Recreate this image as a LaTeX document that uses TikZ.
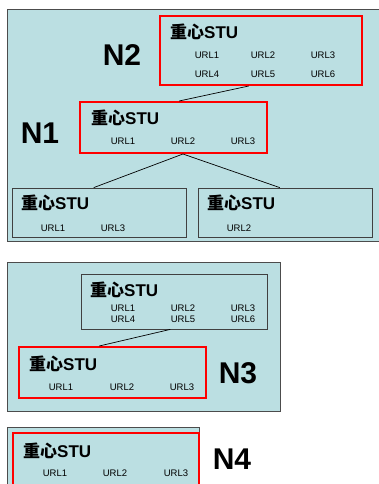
\documentclass[tikz,border=0pt]{standalone}
\usepackage{fontspec}
\setmainfont{Liberation Sans}
\newfontfamily\cjk{Noto Sans CJK SC}
\usetikzlibrary{calc}

\definecolor{panelfill}{RGB}{187,223,226}
\tikzset{
	panel/.style={draw=black!70, fill=panelfill, line width=0.8pt},
	redbox/.style={draw=red, line width=2pt, inner sep=0pt},
	graybox/.style={draw=black!75, line width=0.8pt, inner sep=0pt},
	stutitle/.style={anchor=west, inner sep=0pt, font=\fontsize{17}{17}\selectfont\bfseries},
	url/.style={inner sep=0pt, font=\fontsize{9.5}{10}\selectfont},
	levellabel/.style={inner sep=0pt, font=\fontsize{30}{30}\selectfont\bfseries},
	link/.style={draw=black, line width=0.7pt}
}
\newcommand{\stuname}{{\cjk 重心}STU}

\begin{document}
\begin{tikzpicture}[x=1pt,y=-1pt]
	\useasboundingbox (0,0) rectangle (379,484);
	\clip (0,0) rectangle (379,484);

	% panels
	\fill[white] (0,0) rectangle (379,484);
	\draw[panel] (7,9) rectangle (390,241);
	\draw[panel] (7,262) rectangle (280,411);
	\draw[panel] (7,427) rectangle (199,495);

	% first panel: N2 over N1 over two children
	\node[redbox, minimum width=202pt, minimum height=69pt] (n2box) at (261,50.5) {};
	\node[stutitle] (n2title) at (170,32) {\stuname};
	\foreach \i/\x in {1/207,2/263,3/323}
		\node[url] (n2u\i) at (\x,55) {URL\i};
	\foreach \i/\x in {4/207,5/263,6/323}
		\node[url] (n2u\i) at (\x,74) {URL\i};
	\node[levellabel] (lab2) at (122,55) {N2};

	\node[redbox, minimum width=187pt, minimum height=51pt] (n1box) at (173.5,127.5) {};
	\node[stutitle] (n1title) at (91,118) {\stuname};
	\foreach \i/\x in {1/123,2/183,3/243}
		\node[url] (n1u\i) at (\x,141) {URL\i};
	\node[levellabel] (lab1) at (40,133) {N1};

	\node[graybox, minimum width=174pt, minimum height=49pt] (leftbox) at (99,212.5) {};
	\node[stutitle] (lefttitle) at (21,203) {\stuname};
	\node[url] (leftu1) at (53,228) {URL1};
	\node[url] (leftu3) at (113,228) {URL3};

	\node[graybox, minimum width=174pt, minimum height=49pt] (rightbox) at (285,212.5) {};
	\node[stutitle] (righttitle) at (207,203) {\stuname};
	\node[url] (rightu2) at (239,228) {URL2};

	\draw[link] ($(n2box.south west)!.44!(n2box.south east)$) -- ($(n1box.north west)!.53!(n1box.north east)$);
	\draw[link] ($(n1box.south west)!.55!(n1box.south east)$) -- ($(leftbox.north west)!.47!(leftbox.north east)$);
	\draw[link] ($(n1box.south west)!.55!(n1box.south east)$) -- ($(rightbox.north west)!.47!(rightbox.north east)$);

	% second panel: N3
	\node[graybox, minimum width=186pt, minimum height=55pt] (upbox) at (174,301.5) {};
	\node[stutitle] (uptitle) at (90,290) {\stuname};
	\foreach \i/\x in {1/123,2/183,3/243}
		\node[url] (upu\i) at (\x,308) {URL\i};
	\foreach \i/\x in {4/123,5/183,6/243}
		\node[url] (upu\i) at (\x,319) {URL\i};

	\node[redbox, minimum width=187pt, minimum height=51pt] (n3box) at (112.5,372.5) {};
	\node[stutitle] (n3title) at (29,364) {\stuname};
	\foreach \i/\x in {1/61,2/122,3/182}
		\node[url] (n3u\i) at (\x,387) {URL\i};
	\node[levellabel] (lab3) at (238,373) {N3};

	\draw[link] ($(upbox.south west)!.48!(upbox.south east)$) -- ($(n3box.north west)!.43!(n3box.north east)$);

	% third panel: N4
	\node[redbox, minimum width=186pt, minimum height=57pt] (n4box) at (106,461.5) {};
	\node[stutitle] (n4title) at (23,451) {\stuname};
	\foreach \i/\x in {1/55,2/115,3/176}
		\node[url] (n4u\i) at (\x,473) {URL\i};
	\node[levellabel] (lab4) at (232,459) {N4};
\end{tikzpicture}
\end{document}
